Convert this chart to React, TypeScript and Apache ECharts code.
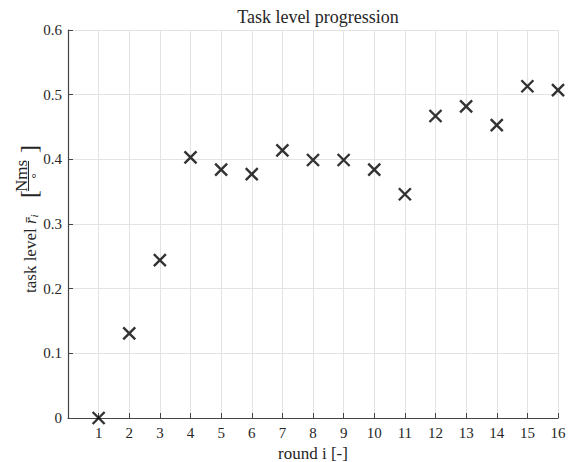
import React, { useEffect, useRef } from "react";
import * as echarts from "echarts";

const rounds = [1, 2, 3, 4, 5, 6, 7, 8, 9, 10, 11, 12, 13, 14, 15, 16];
const taskLevel = [0, 0.131, 0.244, 0.403, 0.384, 0.377, 0.414, 0.399, 0.399, 0.384, 0.346, 0.467, 0.482, 0.453, 0.513, 0.507];

const FONT = "Liberation Serif";
const TXT = "#262626";

export default function App() {
  const ref = useRef<HTMLDivElement>(null);
  useEffect(() => {
    if (!ref.current) return;
    const chart = echarts.init(ref.current, undefined, { renderer: "svg" });
    chart.setOption({
      animation: false,
      backgroundColor: "#fff",
      title: {
        text: "Task level progression",
        left: 313,
        textAlign: "center",
        top: 3,
        textStyle: { fontFamily: FONT, fontWeight: "normal", fontSize: 18, color: TXT },
      },
      grid: { left: 68, right: 25, top: 30, bottom: 44, outerBoundsMode: "none", containLabel: false },
      xAxis: {
        type: "value",
        min: 0,
        max: 16,
        interval: 1,
        name: "round i [-]",
        nameLocation: "middle",
        nameGap: 22,
        nameTextStyle: { fontFamily: FONT, fontSize: 17, color: TXT },
        axisLine: { show: true, onZero: false, lineStyle: { color: "#444", width: 1.2 } },
        axisTick: { show: true, inside: true, length: 5, lineStyle: { color: "#444" } },
        axisLabel: {
          fontFamily: FONT,
          fontSize: 15,
          color: TXT,
          margin: 7,
          formatter: (v: number) => (v === 0 ? "" : String(v)),
        },
        splitLine: { show: true, lineStyle: { color: "#e3e3e3", width: 1 } },
      },
      yAxis: {
        type: "value",
        min: 0,
        max: 0.6,
        interval: 0.1,
        axisLine: { show: true, lineStyle: { color: "#444", width: 1.2 } },
        axisTick: { show: true, inside: true, length: 5, lineStyle: { color: "#444" } },
        axisLabel: {
          fontFamily: FONT,
          fontSize: 15,
          color: TXT,
          margin: 6,
          formatter: (v: number) => (v === 0 ? "0" : v.toFixed(1)),
        },
        splitLine: { show: true, lineStyle: { color: "#e3e3e3", width: 1 } },
      },
      graphic: [
        {
          type: "group",
          x: 30,
          y: 293,
          rotation: Math.PI / 2,
          children: [
            {
              type: "text",
              x: 0,
              y: 0,
              style: {
                text: "{a|task level }{r|r̄}{s|i}",
                verticalAlign: "middle",
                align: "left",
                fill: TXT,
                rich: {
                  a: { fontFamily: FONT, fontSize: 17, fill: TXT },
                  r: { fontFamily: FONT, fontSize: 17, fill: TXT, fontStyle: "italic" },
                  s: { fontFamily: FONT, fontSize: 11, fill: TXT, fontStyle: "italic", padding: [7, 0, 0, 0] },
                },
              },
            },
            {
              type: "text",
              x: 95,
              y: -1,
              style: { text: "[", fontFamily: FONT, fontSize: 24, fill: TXT, align: "left", verticalAlign: "middle" },
            },
            {
              type: "text",
              x: 117,
              y: -9,
              style: { text: "Nms", fontFamily: FONT, fontSize: 17, fill: TXT, align: "center", verticalAlign: "middle" },
            },
            {
              type: "line",
              shape: { x1: 102, y1: -1.5, x2: 132, y2: -1.5 },
              style: { stroke: TXT, lineWidth: 1 },
            },
            {
              type: "text",
              x: 117,
              y: 5,
              style: { text: "°", fontFamily: FONT, fontSize: 13, fill: TXT, align: "center", verticalAlign: "middle" },
            },
            {
              type: "text",
              x: 140,
              y: -1,
              style: { text: "]", fontFamily: FONT, fontSize: 24, fill: TXT, align: "left", verticalAlign: "middle" },
            },
          ],
        },
      ],
      series: [
        {
          type: "scatter",
          data: rounds.map((r, i) => [r, taskLevel[i]]),
          symbol: "path://M0,0L10,10M10,0L0,10",
          symbolSize: 12,
          itemStyle: { color: "rgba(0,0,0,0)", borderColor: "#000", borderWidth: 2.4 },
          clip: false,
        },
      ],
    });
    return () => chart.dispose();
  }, []);
  return <div ref={ref} style={{ width: 583, height: 462, position: "absolute", left: 0, top: 0 }} />;
}
